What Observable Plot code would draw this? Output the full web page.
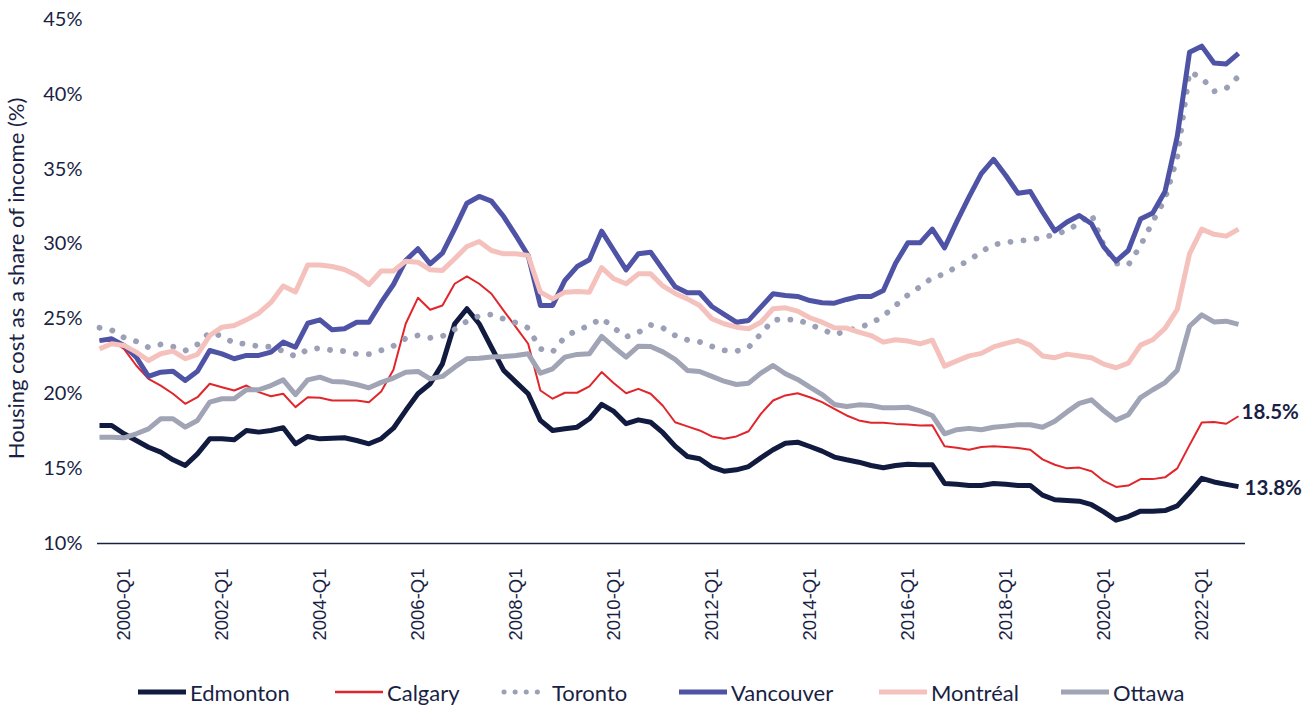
<!DOCTYPE html>
<html><head><meta charset="utf-8">
<script src="https://cdn.jsdelivr.net/npm/d3@7"></script>
<script src="https://cdn.jsdelivr.net/npm/@observablehq/plot@0.6"></script>
<style>
body{margin:0;background:#fff;width:1305px;height:707px;overflow:hidden;font-family:Lato,sans-serif;position:relative;}
#legend{position:absolute;top:678px;left:0;width:1305px;height:28px;}
.item{position:absolute;top:0;height:28px;display:flex;align-items:center;font-size:22px;color:#1a1f45;white-space:nowrap;}
.item svg{margin-right:4px;}
</style></head><body><div id="chart"></div><div id="legend"></div>
<script>
// Categories: quarters 1999-Q3 .. 2022-Q4
const quarters = [];
for (let y = 1999; y <= 2022; y++) for (let q = 1; q <= 4; q++) if (!(y === 1999 && q < 3)) quarters.push(`${y}-Q${q}`);

const tickLabels = ["2000-Q1","2002-Q1","2004-Q1","2006-Q1","2008-Q1","2010-Q1","2012-Q1","2014-Q1","2016-Q1","2018-Q1","2020-Q1","2022-Q1"];
const yTicks = [10, 15, 20, 25, 30, 35, 40, 45];
const yTitle = "Housing cost as a share of income (%)";

const edmonton = [17.88,17.88,17.33,16.88,16.43,16.1,15.59,15.21,15.99,16.99,16.99,16.93,17.55,17.44,17.55,17.73,16.66,17.15,16.99,17.03,17.06,16.88,16.66,17.0,17.7,18.88,20.0,20.67,22.0,24.68,25.68,24.68,23.11,21.56,20.78,20.0,18.22,17.55,17.66,17.77,18.33,19.29,18.82,18.0,18.26,18.1,17.4,16.5,15.81,15.66,15.1,14.83,14.92,15.14,15.72,16.26,16.7,16.77,16.48,16.17,15.77,15.59,15.43,15.21,15.06,15.21,15.3,15.26,15.26,14.01,13.95,13.87,13.87,14.01,13.95,13.87,13.87,13.23,12.92,12.87,12.83,12.59,12.11,11.56,11.8,12.16,12.16,12.2,12.51,13.4,14.35,14.11,13.95,13.8];
const calgary = [23.56,23.51,23.0,21.89,21.0,20.55,20.0,19.33,19.77,20.67,20.44,20.22,20.55,20.11,19.84,20.0,19.11,19.77,19.73,19.55,19.55,19.55,19.44,20.15,21.6,24.68,26.41,25.61,25.9,27.35,27.84,27.35,26.68,25.56,24.45,23.34,20.22,19.67,20.07,20.07,20.49,21.45,20.71,20.04,20.33,20.0,19.2,18.1,17.82,17.55,17.15,16.99,17.15,17.5,18.66,19.55,19.89,20.04,19.77,19.44,19.0,18.55,18.22,18.06,18.06,17.99,17.95,17.88,17.9,16.5,16.4,16.26,16.45,16.5,16.45,16.38,16.26,15.62,15.26,15.02,15.07,14.83,14.18,13.78,13.87,14.3,14.3,14.42,15.02,16.57,18.08,18.12,18.0,18.5];
const toronto = [24.41,24.25,23.76,23.5,23.1,23.3,23.15,22.88,23.3,24.1,23.85,23.38,23.33,23.16,23.15,22.85,22.5,22.95,23.05,22.9,22.85,22.65,22.65,22.9,23.2,23.7,23.9,23.74,23.85,24.3,24.85,25.2,25.3,25.0,24.74,24.4,23.0,22.8,23.8,24.25,24.55,25.05,24.4,23.8,24.1,24.6,24.4,23.9,23.6,23.47,23.16,22.9,22.85,23.1,24.0,24.94,24.96,24.95,24.63,24.3,23.96,24.2,24.43,24.7,25.2,25.9,26.6,27.15,27.75,28.0,28.5,28.9,29.5,29.95,30.12,30.2,30.3,30.42,30.65,30.9,31.4,32.0,29.9,28.7,28.6,29.9,31.5,33.0,35.8,41.5,41.1,40.2,40.4,41.2];
const vancouver = [23.55,23.67,23.23,22.45,21.16,21.44,21.51,20.89,21.51,22.89,22.67,22.34,22.56,22.56,22.78,23.45,23.11,24.71,24.94,24.27,24.34,24.78,24.78,26.1,27.3,28.9,29.69,28.68,29.39,31.02,32.73,33.18,32.87,31.84,30.57,29.24,25.9,25.9,27.57,28.5,28.95,30.86,29.57,28.28,29.35,29.46,28.3,27.15,26.75,26.75,25.83,25.3,24.78,24.9,25.79,26.68,26.57,26.5,26.23,26.08,26.05,26.3,26.5,26.5,26.9,28.72,30.08,30.08,31.0,29.75,31.5,33.15,34.7,35.66,34.58,33.39,33.51,32.15,30.88,31.48,31.91,31.36,29.81,28.86,29.57,31.67,32.08,33.51,37.2,42.81,43.22,42.1,42.03,42.74];
const montreal = [23.0,23.34,23.23,22.78,22.22,22.67,22.85,22.34,22.63,23.89,24.45,24.56,24.94,25.38,26.1,27.2,26.8,28.6,28.6,28.5,28.3,27.9,27.3,28.2,28.2,28.86,28.79,28.28,28.24,29.02,29.84,30.17,29.57,29.35,29.35,29.24,26.79,26.34,26.79,26.83,26.79,28.42,27.68,27.35,28.01,28.01,27.2,26.7,26.34,25.9,25.01,24.68,24.45,24.34,24.78,25.68,25.74,25.52,25.08,24.78,24.41,24.39,24.12,23.89,23.45,23.61,23.52,23.34,23.58,21.85,22.2,22.53,22.7,23.13,23.37,23.56,23.25,22.53,22.41,22.65,22.53,22.41,21.98,21.74,22.05,23.25,23.61,24.37,25.64,29.34,31.0,30.65,30.53,31.0];
const ottawa = [17.1,17.1,17.06,17.33,17.66,18.33,18.33,17.77,18.22,19.44,19.67,19.67,20.27,20.27,20.55,20.93,19.95,20.93,21.11,20.82,20.78,20.62,20.4,20.76,21.05,21.44,21.49,21.0,21.16,21.78,22.34,22.38,22.45,22.49,22.56,22.67,21.38,21.67,22.45,22.63,22.67,23.83,23.11,22.45,23.18,23.16,22.8,22.3,21.56,21.49,21.16,20.84,20.62,20.71,21.38,21.89,21.34,20.96,20.44,19.95,19.29,19.15,19.26,19.22,19.06,19.06,19.1,18.86,18.55,17.33,17.6,17.69,17.6,17.76,17.84,17.93,17.93,17.76,18.17,18.79,19.36,19.6,18.86,18.24,18.6,19.75,20.27,20.75,21.58,24.51,25.27,24.8,24.85,24.64];

const cityNames = ["Edmonton","Calgary","Toronto","Vancouver","Montréal","Ottawa"];
const cityValues = [edmonton, calgary, toronto, vancouver, montreal, ottawa];
const cityColors = ["#111a3f","#e1262b","#9ba0b6","#4f53a6","#f5c1bc","#a0a4b5"];
const cityWidths = [5, 2, 5.8, 5, 5, 5];
const cityDash = [null, null, "0.1 13", null, null, null];
const endLabelCities = ["Calgary","Edmonton"];
const endLabelShift = [[3, -4], [6, 2]];

const ink = "#1a1f45";

// x is the quarter's position in the category list
const rows = cityNames.map((name, k) => quarters.map((q, i) => ({i, q, v: cityValues[k][i], city: name})));
const tickIdx = tickLabels.map(t => quarters.indexOf(t));

const lines = cityNames.map((name, k) => Plot.line(rows[k], {
  x: "i", y: "v",
  stroke: cityColors[k], strokeWidth: cityWidths[k],
  strokeLinejoin: "round", strokeLinecap: cityDash[k] ? "round" : "butt",
  strokeDasharray: cityDash[k] || undefined
}));

const last = quarters.length - 1;
const endMarks = endLabelCities.map((name, j) => {
  const k = cityNames.indexOf(name);
  const v = cityValues[k][last];
  return Plot.text([{i: last, v, label: v.toFixed(1) + "%"}], {
    x: "i", y: "v", text: "label", textAnchor: "start",
    dx: endLabelShift[j][0], dy: endLabelShift[j][1],
    fontWeight: "bold", fontSize: 20.5, fill: ink
  });
});

const chart = Plot.plot({
  width: 1305, height: 668,
  marginLeft: 99, marginRight: 67, marginTop: 19, marginBottom: 125,
  style: {fontFamily: "Lato, sans-serif", color: ink, background: "white", overflow: "visible"},
  x: {type: "linear", domain: [0, last]},
  y: {domain: [10, 45]},
  marks: [
    Plot.axisY({ticks: yTicks, tickFormat: d => d + "%", tickSize: 0, tickPadding: 17, fontSize: 20, label: null}),
    Plot.axisX({ticks: tickIdx, tickFormat: i => quarters[i], tickRotate: -90, tickSize: 0, tickPadding: 25, fontSize: 18.5, fontFamily: "Liberation Sans, Arial, sans-serif", label: null}),
    Plot.text([yTitle], {frameAnchor: "left", textAnchor: "middle", rotate: -90, dx: -83, dy: -3, fontSize: 22, fill: ink}),
    Plot.ruleY([10], {stroke: ink, strokeWidth: 1.5, insetLeft: -2, insetRight: -7}),
    ...lines,
    ...endMarks
  ]
});
document.getElementById("chart").appendChild(chart);

// Legend
const legendLeft = [138, 335, 500, 679, 879, 1061];
const legend = document.getElementById("legend");
cityNames.forEach((name, k) => {
  const div = document.createElement("div");
  div.className = "item";
  div.style.left = legendLeft[k] + "px";
  const w = 48;
  const dash = cityDash[k] ? `stroke-dasharray="0.1 11" stroke-linecap="round"` : "";
  const sw = cityDash[k] ? 5 : Math.max(cityWidths[k], 2.5);
  div.innerHTML = `<svg width="${w}" height="12"><line x1="${cityDash[k] ? 4 : 0}" y1="6" x2="${w - (cityDash[k] ? 4 : 0)}" y2="6" stroke="${cityColors[k]}" stroke-width="${sw}" ${dash}/></svg><span>${name}</span>`;
  legend.appendChild(div);
});
</script>
</body></html>
